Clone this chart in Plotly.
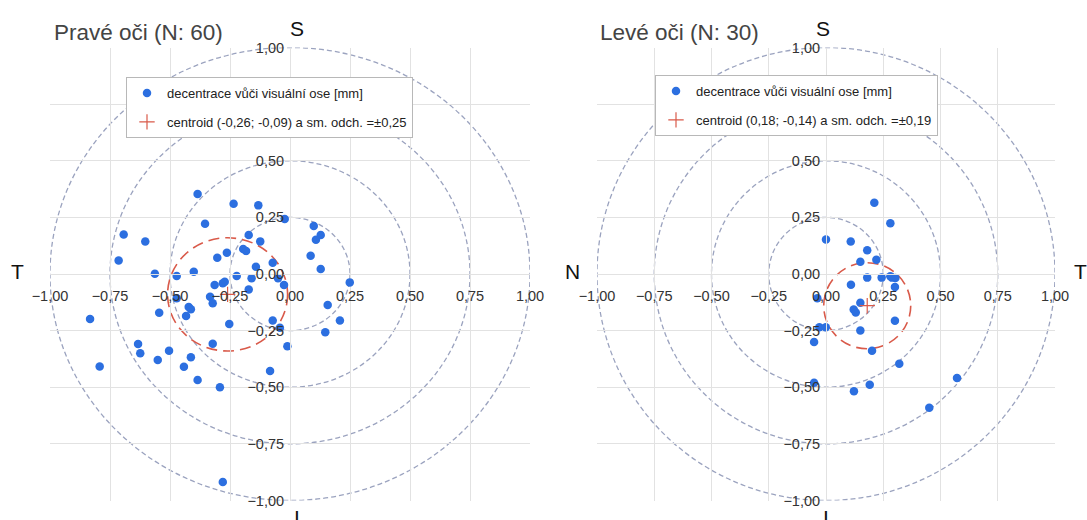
import numpy as np
import plotly.graph_objects as go

# ---------------- data ----------------
right_x = [-0.385, -0.235, -0.132, -0.022, -0.354, -0.693, -0.603, -0.172, -0.124, 0.099,
           0.128, 0.108, -0.195, -0.183, -0.263, -0.303, 0.086, -0.714, -0.072, -0.142,
           0.128, -0.563, -0.472, -0.401, -0.222, -0.160, -0.050, -0.025, -0.314, -0.280,
           -0.272, -0.172, 0.249, -0.333, -0.472, -0.322, -0.422, -0.413, -0.545, -0.433,
           0.157, -0.833, -0.072, 0.208, -0.042, -0.253, 0.147, -0.322, -0.011, -0.633,
           -0.624, -0.504, -0.551, -0.413, -0.442, -0.793, -0.083, -0.385, -0.292, -0.280]
right_y = [0.353, 0.310, 0.303, 0.243, 0.222, 0.174, 0.143, 0.172, 0.144, 0.212,
           0.172, 0.151, 0.110, 0.102, 0.094, 0.072, 0.081, 0.060, 0.050, 0.032,
           0.022, 0.001, -0.009, 0.010, -0.009, -0.019, -0.019, -0.049, -0.049, -0.041,
           -0.034, -0.068, -0.037, -0.100, -0.107, -0.129, -0.146, -0.156, -0.171, -0.185,
           -0.137, -0.199, -0.205, -0.205, -0.237, -0.221, -0.257, -0.308, -0.319, -0.309,
           -0.350, -0.339, -0.380, -0.368, -0.409, -0.408, -0.428, -0.468, -0.500, -0.918]

left_x = [0.211, 0.281, 0.000, 0.108, 0.180, 0.150, 0.220, 0.180, 0.243, 0.281,
          0.288, 0.303, 0.109, 0.301, -0.038, 0.150, 0.121, 0.301, -0.029, -0.001,
          0.150, -0.052, 0.201, 0.320, -0.052, 0.122, 0.191, 0.572, 0.451, 0.130]
left_y = [0.315, 0.224, 0.152, 0.143, 0.105, 0.054, 0.063, -0.016, -0.016, -0.010,
          -0.016, -0.018, -0.047, -0.057, -0.107, -0.127, -0.157, -0.206, -0.235, -0.235,
          -0.249, -0.300, -0.339, -0.396, -0.480, -0.518, -0.489, -0.459, -0.590, -0.170]

right_centroid = (-0.26, -0.09)
right_sd = 0.25
left_centroid = (0.18, -0.14)
left_sd = 0.19

ring_radii = [0.25, 0.50, 0.75, 1.00]
tick_vals = [-1.0, -0.75, -0.5, -0.25, 0.0, 0.25, 0.5, 0.75, 1.0]

titles = ["Pravé oči (N: 60)", "Levé oči (N: 30)"]
series_name = "decentrace vůči visuální ose [mm]"
centroid_names = ["centroid (-0,26; -0,09) a sm. odch. =±0,25",
                  "centroid (0,18; -0,14) a sm. odch. =±0,19"]

# ---------------- layout geometry ----------------
W, H = 1087, 520
FONT = "Liberation Sans, Arial, sans-serif"
DOT = "#2c6fe0"
RED = "#d95a4a"
RING = "#9ba3bf"
GRID = "#e2e2e2"

dom_x = [[50 / W, 530 / W], [597 / W, 1055 / W]]
dom_y = [(H - 500.5) / H, (H - 47.5) / H]
ymid = (dom_y[0] + dom_y[1]) / 2

fig = go.Figure()

panels = [
    dict(x=right_x, y=right_y, c=right_centroid, sd=right_sd, xa="x", ya="y", leg="legend"),
    dict(x=left_x, y=left_y, c=left_centroid, sd=left_sd, xa="x2", ya="y2", leg="legend2"),
]

for i, p in enumerate(panels):
    fig.add_trace(go.Scatter(
        x=p["x"], y=p["y"], mode="markers", name=series_name,
        marker=dict(color=DOT, size=8.5), xaxis=p["xa"], yaxis=p["ya"],
        legend=p["leg"], legendgroup=f"a{i}"))
    fig.add_trace(go.Scatter(
        x=[p["c"][0]], y=[p["c"][1]], mode="markers", name=centroid_names[i],
        marker=dict(symbol="cross-thin", size=11, color=RED, line=dict(color=RED, width=1.2)),
        xaxis=p["xa"], yaxis=p["ya"], legend=p["leg"], legendgroup=f"b{i}"))
    # reference rings
    for r in ring_radii:
        fig.add_shape(type="circle", xref=p["xa"], yref=p["ya"],
                      x0=-r, x1=r, y0=-r, y1=r, layer="below",
                      line=dict(color=RING, width=1.3, dash="5px,3px"))
    # SD circle
    cx, cy = p["c"]
    fig.add_shape(type="circle", xref=p["xa"], yref=p["ya"],
                  x0=cx - p["sd"], x1=cx + p["sd"], y0=cy - p["sd"], y1=cy + p["sd"],
                  layer="below", line=dict(color=RED, width=1.6, dash="11px,6px"))

axis_common = dict(range=[-1, 1], tickvals=tick_vals, tickformat=".2f",
                   showgrid=True, gridcolor=GRID, gridwidth=1, zeroline=False,
                   showline=True, linecolor=GRID, mirror=True, automargin=False,
                   tickfont=dict(family=FONT, size=14.5, color="#333"),
                   ticks="outside", tickcolor="rgba(0,0,0,0)", fixedrange=True)

for i, (xa, ya) in enumerate([("xaxis", "yaxis"), ("xaxis2", "yaxis2")]):
    xmid = (dom_x[i][0] + dom_x[i][1]) / 2
    fig.layout[xa] = dict(axis_common, domain=dom_x[i], anchor="free", position=ymid, ticklen=9)
    fig.layout[ya] = dict(axis_common, domain=dom_y, anchor="free", position=xmid, ticklen=3)

legend_common = dict(bgcolor="white", bordercolor="#b8b8b8", borderwidth=1,
                     font=dict(family=FONT, size=13, color="#222"),
                     traceorder="grouped", tracegroupgap=9,
                     xanchor="left", yanchor="top", itemwidth=30)
fig.update_layout(
    legend=dict(legend_common, x=126 / W, y=(H - 77) / H),
    legend2=dict(legend_common, x=655 / W, y=(H - 75) / H),
)

annotations = []
for i, t in enumerate(titles):
    annotations.append(dict(text=t, x=[52, 598][i] / W, y=(H - 32) / H, xref="paper", yref="paper",
                            xanchor="left", yanchor="middle", showarrow=False,
                            font=dict(family=FONT, size=22.5, color="#444")))
dir_labels = [("S", 297, 28), ("I", 297, 517), ("T", 17, 272),
              ("S", 823, 28), ("I", 826, 517), ("N", 572, 272), ("T", 1080, 272)]
for txt, px, py in dir_labels:
    annotations.append(dict(text=txt, x=px / W, y=(H - py) / H, xref="paper", yref="paper",
                            xanchor="center", yanchor="middle", showarrow=False,
                            font=dict(family=FONT, size=21, color="#111")))

fig.update_layout(
    width=W, height=H, margin=dict(l=0, r=0, t=0, b=0, autoexpand=False),
    paper_bgcolor="white", plot_bgcolor="white",
    separators=", ", annotations=annotations, showlegend=True,
)

fig.write_html("out.html")
